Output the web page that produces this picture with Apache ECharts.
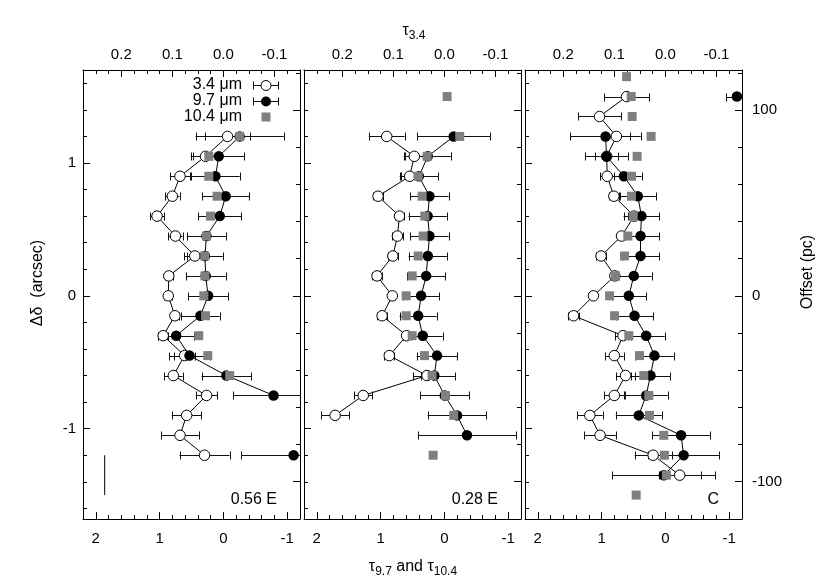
<!DOCTYPE html>
<html><head><meta charset="utf-8">
<script src="https://cdn.jsdelivr.net/npm/echarts@6/dist/echarts.min.js"></script>
<style>html,body{margin:0;padding:0;background:#fff}#c{width:830px;height:581px}</style>
</head><body><div id="c"></div>
<script>
// ---- data (rows: declination offset in arcsec, top to bottom) ----
const rowsArcsec = [1.65, 1.5, 1.35, 1.2, 1.05, 0.9, 0.75, 0.6, 0.45, 0.3, 0.15, 0, -0.15, -0.3, -0.45, -0.6, -0.75, -0.9, -1.05, -1.2, -1.35, -1.5];
const panelNames = ['0.56 E', '0.28 E', 'C'];
const legendLabels = ['3.4 μm', '9.7 μm', '10.4 μm'];

// panel 1 : 0.56 E
const p1Tau34    = [null,null,null,-0.008,0.035,0.085,0.100,0.130,0.094,0.056,0.107,0.108,0.095,0.118,0.076,0.098,0.033,0.072,0.085,0.037,null,null];
const p1Tau34Err = [null,null,null,0.044,0.029,0.020,0.014,0.014,0.014,0.021,0.008,0.008,0.008,0.010,0.020,0.018,0.021,0.029,0.037,0.049,null,null];
const p1Tau97    = [null,null,null,-0.255,0.073,0.125,-0.036,0.057,0.266,0.29,0.277,0.24,0.36,0.74,0.531,-0.047,-0.786,null,null,-1.10,null,null];
const p1Tau97Err = [null,null,null,0.69,0.40,0.38,0.37,0.34,0.31,0.28,0.31,0.31,0.30,0.28,0.32,0.39,0.63,null,null,0.82,null,null];
const p1Tau104   = [null,null,null,-0.255,0.229,0.229,0.099,0.203,0.266,0.292,0.29,0.307,0.28,0.386,0.245,-0.099,null,null,null,null,null,null];

// panel 2 : 0.28 E
const p2Tau34    = [null,null,null,0.113,0.059,0.068,0.130,0.088,0.092,0.101,0.132,0.102,0.122,0.074,0.108,0.034,0.159,0.214,null,null,null,null];
const p2Tau34Err = [null,null,null,0.035,0.021,0.018,0.010,0.008,0.010,0.010,0.010,0.006,0.010,0.008,0.010,0.012,0.018,0.027,null,null,null,null];
const p2Tau97    = [null,null,null,-0.146,0.26,0.40,0.234,0.262,0.234,0.26,0.286,0.365,0.411,0.339,0.115,0.159,-0.005,-0.198,-0.354,null,null,null];
const p2Tau97Err = [null,null,null,0.575,0.36,0.30,0.30,0.30,0.30,0.30,0.30,0.28,0.29,0.31,0.32,0.33,0.38,0.46,0.77,null,null,null];
const p2Tau104   = [null,-0.042,null,-0.24,0.27,0.41,0.349,0.307,0.333,0.411,0.505,0.599,0.599,0.505,0.3125,0.193,-0.016,-0.146,null,0.177,null,null];

// panel 3 : C
const p3Tau34    = [null,0.076,0.129,0.096,0.115,0.114,0.101,0.061,0.086,0.126,0.099,0.141,0.180,0.083,0.100,0.078,0.100,0.148,0.128,0.024,-0.028,null];
const p3Tau34Err = [null,0.044,0.042,0.027,0.023,0.014,0.010,0.012,0.006,0.010,0.008,0.004,0.010,0.016,0.018,0.018,0.020,0.025,0.031,0.036,0.041,null];
const p3Tau97    = [null,-1.12,null,0.9375,0.922,0.651,0.432,0.375,0.39,0.39,0.495,0.573,0.484,0.302,0.172,0.234,0.302,0.417,-0.245,-0.286,0.026,null];
const p3Tau97Err = [null,0.17,null,0.55,0.34,0.28,0.28,0.28,0.29,0.29,0.28,0.27,0.29,0.29,0.30,0.31,0.34,0.36,0.45,0.56,0.81,null];
const p3Tau104   = [0.609,0.536,0.521,0.224,0.443,0.531,0.531,0.505,0.589,0.64,0.781,0.875,0.797,0.573,0.406,0.339,0.26,0.25,0.026,0.016,-0.016,0.458];

// scale bar (panel 1)
const scaleBarTau97 = [1.86, 1.86];
const scaleBarArcsec = [-1.2, -1.5];

// tick labels
const tau97Ticks = [2, 1, 0, -1];
const tau34Ticks = [0.2, 0.1, 0.0, -0.1];
const arcsecTicks = [1, 0, -1];
const pcTicks = [100, 0, -100];

// ---- layout ----
const FONT = 'Liberation Sans, Arial, Helvetica, sans-serif';
const panelLeft = [83, 304, 525];
const gridTop = 70, gridW = 217, gridH = 449;
const X97 = [-1.2, 2.2], X34 = [-0.15, 0.275];
const Yas = [-1.68, 1.70], PC_PER_ARCSEC = 71.5;

const panels = [
  {t34: p1Tau34, e34: p1Tau34Err, t97: p1Tau97, e97: p1Tau97Err, t104: p1Tau104},
  {t34: p2Tau34, e34: p2Tau34Err, t97: p2Tau97, e97: p2Tau97Err, t104: p2Tau104},
  {t34: p3Tau34, e34: p3Tau34Err, t97: p3Tau97, e97: p3Tau97Err, t104: p3Tau104}
];

function steps(a, b, s) { const o = []; for (let k = Math.round(a / s); k <= Math.round(b / s); k++) o.push(+(k * s).toFixed(4)); return o; }
const bottomMinor = steps(-1.2, 2.2, 0.2);
const topMinor = steps(-0.15, 0.275, 0.025);
const leftMinor = steps(-1.6, 1.6, 0.2);
const rightMinor = steps(-120, 120, 20);

const lineBlack = {color: '#000', width: 1};
function axisBase(extra) {
  return Object.assign({type: 'value', splitLine: {show: false}, minorTick: {show: false}}, extra);
}
function majorAxis(gi, pos, min, max, inverse, ticks, showLabels, fmt, margin) {
  return axisBase({
    gridIndex: gi, position: pos, min: min, max: max, inverse: inverse,
    axisLine: {show: true, onZero: false, lineStyle: lineBlack},
    axisTick: {show: true, inside: true, length: 7, customValues: ticks, lineStyle: lineBlack},
    axisLabel: {show: showLabels, customValues: ticks, formatter: fmt, margin: margin,
      fontSize: 15, color: '#000', fontFamily: FONT}
  });
}
function minorAxis(gi, pos, min, max, inverse, ticks) {
  return axisBase({
    gridIndex: gi, position: pos, min: min, max: max, inverse: inverse,
    axisLine: {show: false, onZero: false},
    axisTick: {show: true, inside: true, length: 4, customValues: ticks, lineStyle: lineBlack},
    axisLabel: {show: false}
  });
}

const grids = [], xAxes = [], yAxes = [], series = [];
const fmtInt = v => String(Math.round(v));
const fmt1 = v => (Math.round(v * 10) / 10).toFixed(1);

function errRender(params, api) {
  const x = api.value(0), y = api.value(1), e = api.value(2);
  const a = api.coord([x - e, y]), b = api.coord([x + e, y]);
  const yy = Math.round(a[1]) + 0.5, h = 4;
  const st = {stroke: '#111', lineWidth: 1};
  return {type: 'group', children: [
    {type: 'line', shape: {x1: a[0], y1: yy, x2: b[0], y2: yy}, style: st},
    {type: 'line', shape: {x1: Math.round(a[0]) + 0.5, y1: yy - h, x2: Math.round(a[0]) + 0.5, y2: yy + h}, style: st},
    {type: 'line', shape: {x1: Math.round(b[0]) + 0.5, y1: yy - h, x2: Math.round(b[0]) + 0.5, y2: yy + h}, style: st}
  ]};
}

panels.forEach((p, i) => {
  grids.push({left: panelLeft[i], top: gridTop, width: gridW, height: gridH, outerBoundsMode: 'none'});
  xAxes.push(majorAxis(i, 'bottom', X97[0], X97[1], true, tau97Ticks, true, fmtInt, 12));
  xAxes.push(minorAxis(i, 'bottom', X97[0], X97[1], true, bottomMinor));
  xAxes.push(majorAxis(i, 'top', X34[0], X34[1], true, tau34Ticks, true, fmt1, 8));
  xAxes.push(minorAxis(i, 'top', X34[0], X34[1], true, topMinor));
  yAxes.push(majorAxis(i, 'left', Yas[0], Yas[1], false, arcsecTicks, i === 0, fmtInt, 7));
  yAxes.push(minorAxis(i, 'left', Yas[0], Yas[1], false, leftMinor));
  yAxes.push(majorAxis(i, 'right', Yas[0] * PC_PER_ARCSEC, Yas[1] * PC_PER_ARCSEC, false, pcTicks, i === 2, fmtInt, 10));
  yAxes.push(minorAxis(i, 'right', Yas[0] * PC_PER_ARCSEC, Yas[1] * PC_PER_ARCSEC, false, rightMinor));

  const xb = 4 * i, xt = 4 * i + 2, yl = 4 * i;
  const err34 = [], err97 = [], ln34 = [], ln97 = [], sq = [];
  rowsArcsec.forEach((r, k) => {
    if (p.t34[k] != null) { ln34.push([p.t34[k], r]); err34.push([p.t34[k], r, p.e34[k]]); }
    else ln34.push(['-', r]);
    if (p.t97[k] != null) { ln97.push([p.t97[k], r]); err97.push([p.t97[k], r, p.e97[k]]); }
    else ln97.push(['-', r]);
    if (p.t104[k] != null) sq.push([p.t104[k], r]);
  });
  series.push({type: 'custom', xAxisIndex: xt, yAxisIndex: yl, data: err34, renderItem: errRender, clip: true, z: 1, silent: true});
  series.push({type: 'custom', xAxisIndex: xb, yAxisIndex: yl, data: err97, renderItem: errRender, clip: true, z: 1, silent: true});
  series.push({type: 'line', xAxisIndex: xt, yAxisIndex: yl, data: ln34, connectNulls: false,
    symbol: 'circle', symbolSize: 10.5, showSymbol: true, showAllSymbol: true,
    itemStyle: {color: '#fff', borderColor: '#000', borderWidth: 1, opacity: 1},
    lineStyle: {color: '#000', width: 1}, z: 2, silent: true});
  series.push({type: 'line', xAxisIndex: xb, yAxisIndex: yl, data: ln97, connectNulls: false,
    symbol: 'circle', symbolSize: 10.5, showSymbol: true, showAllSymbol: true,
    itemStyle: {color: '#000', borderColor: '#000', borderWidth: 0, opacity: 1},
    lineStyle: {color: '#000', width: 1}, z: 3, silent: true});
  series.push({type: 'scatter', xAxisIndex: xb, yAxisIndex: yl, data: sq,
    symbol: 'rect', symbolSize: 9, itemStyle: {color: '#808080', opacity: 1}, z: 4, silent: true});
});

// scale bar in panel 1
series.push({type: 'line', xAxisIndex: 0, yAxisIndex: 0,
  data: scaleBarTau97.map((v, k) => [v, scaleBarArcsec[k]]),
  symbol: 'none', lineStyle: {color: '#000', width: 1}, z: 2, silent: true});

// ---- texts / legend (graphic) ----
const graphic = [];
const txt = (x, y, text, size, align, extra) => Object.assign({type: 'text', x: x, y: y,
  style: {text: text, font: size + 'px ' + FONT, fill: '#000', align: align || 'center', verticalAlign: 'middle'}}, extra || {});
// panel labels
panelNames.forEach((n, i) => graphic.push(txt(panelLeft[i] + gridW - 23, 500, n, 16, 'right')));
// legend
const legY = [85, 101, 117];
legendLabels.forEach((l, k) => graphic.push(txt(242, legY[k], l, 16, 'right')));
[0, 1].forEach(k => {
  const y = legY[k] + 0.5;
  graphic.push({type: 'line', shape: {x1: 253, y1: y, x2: 279, y2: y}, style: {stroke: '#111', lineWidth: 1}});
  graphic.push({type: 'line', shape: {x1: 253.5, y1: y - 4, x2: 253.5, y2: y + 4}, style: {stroke: '#111', lineWidth: 1}});
  graphic.push({type: 'line', shape: {x1: 278.5, y1: y - 4, x2: 278.5, y2: y + 4}, style: {stroke: '#111', lineWidth: 1}});
  graphic.push({type: 'circle', shape: {cx: 266, cy: y, r: 5}, style: k === 0 ? {fill: '#fff', stroke: '#000', lineWidth: 1} : {fill: '#000'}});
});
graphic.push({type: 'rect', shape: {x: 261.5, y: legY[2] - 4.5, width: 9, height: 9}, style: {fill: '#808080'}});
// axis titles
graphic.push({type: 'text', x: 414, y: 31, style: {
  text: '{t|τ}{s|3.4}', font: '16px ' + FONT, fill: '#000', align: 'center', verticalAlign: 'middle',
  rich: {t: {fontSize: 16, fontFamily: FONT, lineHeight: 22, verticalAlign: 'middle'},
         s: {fontSize: 12, fontFamily: FONT, lineHeight: 12, verticalAlign: 'bottom'}}}});
graphic.push({type: 'text', x: 413, y: 567, style: {
  text: '{t|τ}{s|9.7}{t| and τ}{s|10.4}', font: '16px ' + FONT, fill: '#000', align: 'center', verticalAlign: 'middle',
  rich: {t: {fontSize: 16, fontFamily: FONT, lineHeight: 22, verticalAlign: 'middle'},
         s: {fontSize: 12, fontFamily: FONT, lineHeight: 12, verticalAlign: 'bottom'}}}});
graphic.push(txt(38, 283, 'Δδ  (arcsec)', 16, 'center', {rotation: Math.PI / 2}));
graphic.push(txt(808, 272, 'Offset (pc)', 16, 'center', {rotation: Math.PI / 2}));

const chart = echarts.init(document.getElementById('c'), null, {renderer: 'canvas'});
chart.setOption({
  animation: false,
  backgroundColor: '#fff',
  textStyle: {fontFamily: FONT},
  grid: grids, xAxis: xAxes, yAxis: yAxes, series: series, graphic: graphic
});
</script></body></html>
